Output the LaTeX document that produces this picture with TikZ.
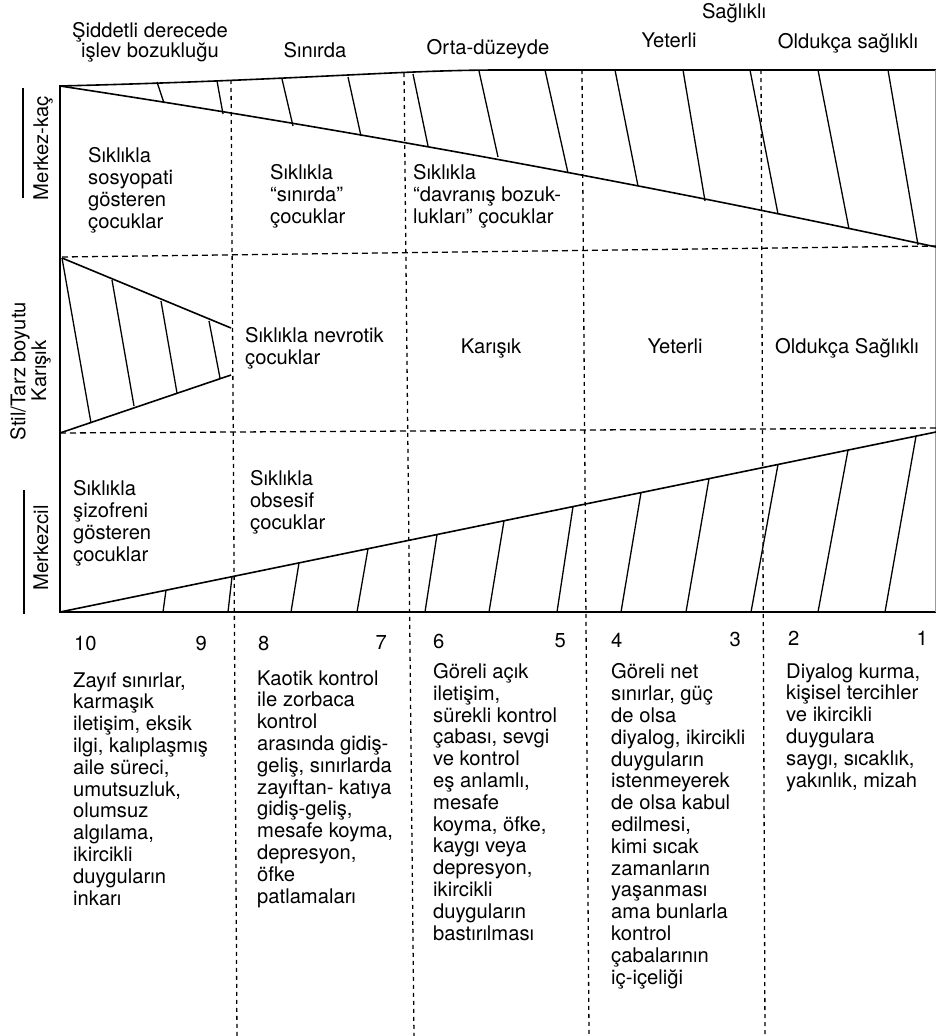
\documentclass[tikz,border=0pt]{standalone}
\usepackage{fontspec}
\setmainfont{TeX Gyre Heros}
\tikzset{
  txt/.style={font=\fontsize{20.2}{21.8}\selectfont, inner sep=0pt},
  blk/.style={txt, align=left, anchor=base west},
  hdr/.style={txt, align=center, anchor=base},
  axislabel/.style={txt, rotate=90, anchor=center},
  outline/.style={line width=1.6pt},
  hatchline/.style={line width=1.3pt},
  gridline/.style={line width=1.3pt, dash pattern=on 6pt off 4pt},
  colline/.style={line width=1.3pt, dash pattern=on 4pt off 4pt},
}
\begin{document}
\begin{tikzpicture}[x=1pt,y=-1pt]
        \useasboundingbox (0,0) rectangle (936,1036);
        \draw[outline] (936,70) -- (500,70) .. controls (400,70) and (300,80) .. (60,86) -- (60,612) -- (936,612);
        \draw[line width=0.8pt, black!40] (935,70) -- (935,612);
        \draw[outline] (60,86) .. controls (350,130) and (650,185) .. (936,247);
        \draw[outline] (60,612) -- (936,432);
        \draw[outline] (62,258) -- (231,328);
        \draw[outline] (60,433) -- (231,375);
        \foreach \xt/\yt/\xb/\yb in {157/82/164/103, 217/81/223/114, 282/79/293/126, 348/77/361/136, 413/74/428/146, 479/71/498/157, 545/70/568/173, 615/70/638/186, 683/70/705/201, 750/70/778/214, 818/70/849/229, 888/70/918/245}
          \draw[hatchline] (\xt,\yt) -- (\xb,\yb);
        \foreach \xt/\yt/\xb/\yb in {62/258/91/423, 112/280/134/406, 161/301/177/393, 209/321/220/378}
          \draw[hatchline] (\xt,\yt) -- (\xb,\yb);
        \foreach \b/\t in {163/166, 228/232, 291/299, 357/368, 425/437, 489/504, 557/573, 621/641, 686/709, 751/778, 818/848, 885/916}
          \draw[hatchline] (\b,612) -- (\t,{612-(\t-60)*0.20548});
        \draw[gridline] (62,257) -- (936,246);
        \draw[gridline] (60,433) -- (936,428);
        \foreach \xt/\yt/\xb in {231/80/237, 404/73/414, 582/70/589, 761/70/765}
          \draw[colline] (\xt,\yt) -- (\xb,1036);
        \draw[outline] (23,88) -- (23,198);
        \draw[outline] (24,490) -- (24,614);
        \node[hdr, font=\fontsize{20.2}{20}\selectfont] at (150,57) (siddetli) {Şiddetli derecede\\işlev bozukluğu};
        \node[hdr] at (315,57) (sinirdaH) {Sınırda};
        \node[hdr] at (488,54) (orta) {Orta-düzeyde};
        \node[hdr] at (669,47) (yeterliH) {Yeterli};
        \node[hdr] at (734,19) (saglikli) {Sağlıklı};
        \node[hdr] at (848,48) (oldukcaH) {Oldukça sağlıklı};
        \node[axislabel] at (43,148) (merkezkac) {Merkez-kaç};
        \node[axislabel] at (20,371) (stil) {Stil/Tarz boyutu};
        \node[axislabel] at (41,371) (karisikAx) {Karışık};
        \node[axislabel] at (41,548) (merkezcil) {Merkezcil};
        \node[blk] at (88,228) (sosyopati) {Sıklıkla\\sosyopati\\gösteren\\çocuklar};
        \node[blk] at (270,223) (sinirda) {Sıklıkla\\“sınırda”\\çocuklar};
        \node[blk] at (413,223) (davranis) {Sıklıkla\\“davranış bozuk-\\lukları” çocuklar};
        \node[blk] at (245,364) (nevrotik) {Sıklıkla nevrotik\\çocuklar};
        \node[hdr] at (491,353) (karisik) {Karışık};
        \node[hdr] at (675,353) (yeterli) {Yeterli};
        \node[hdr] at (847,353) (oldukca) {Oldukça Sağlıklı};
        \node[blk] at (73,561) (sizofreni) {Sıklıkla\\şizofreni\\gösteren\\çocuklar};
        \node[blk] at (250,529) (obsesif) {Sıklıkla\\obsesif\\çocuklar};
        \node[txt, anchor=base west] at (74,650) (n10) {10};
        \node[txt, anchor=base east] at (207,650) (n9) {9};
        \node[txt, anchor=base west] at (258,650) (n8) {8};
        \node[txt, anchor=base east] at (387,649) (n7) {7};
        \node[txt, anchor=base west] at (433,648) (n6) {6};
        \node[txt, anchor=base east] at (566,647) (n5) {5};
        \node[txt, anchor=base west] at (611,647) (n4) {4};
        \node[txt, anchor=base east] at (741,646) (n3) {3};
        \node[txt, anchor=base west] at (788,645) (n2) {2};
        \node[txt, anchor=base east] at (928,645) (n1) {1};
        \node[blk] at (73,905) (col10) {Zayıf sınırlar,\\karmaşık\\iletişim, eksik\\ilgi, kalıplaşmış\\aile süreci,\\umutsuzluk,\\olumsuz\\algılama,\\ikircikli\\duyguların\\inkarı};
        \node[blk] at (257,903) (col8) {Kaotik kontrol\\ile zorbaca\\kontrol\\arasında gidiş-\\geliş, sınırlarda\\zayıftan- katıya\\gidiş-geliş,\\mesafe koyma,\\depresyon,\\öfke\\patlamaları};
        \node[blk] at (433,940) (col6) {Göreli açık\\iletişim,\\sürekli kontrol\\çabası, sevgi\\ve kontrol\\eş anlamlı,\\mesafe\\koyma, öfke,\\kaygı veya\\depresyon,\\ikircikli\\duyguların\\bastırılması};
        \node[blk] at (611,984) (col4) {Göreli net\\sınırlar, güç\\de olsa\\diyalog, ikircikli\\duyguların\\istenmeyerek\\de olsa kabul\\edilmesi,\\kimi sıcak\\zamanların\\yaşanması\\ama bunlarla\\kontrol\\çabalarının\\iç-içeliği};
        \node[blk] at (786,787) (col2) {Diyalog kurma,\\kişisel tercihler\\ve ikircikli\\duygulara\\saygı, sıcaklık,\\yakınlık, mizah};
    \end{tikzpicture}
\end{document}
